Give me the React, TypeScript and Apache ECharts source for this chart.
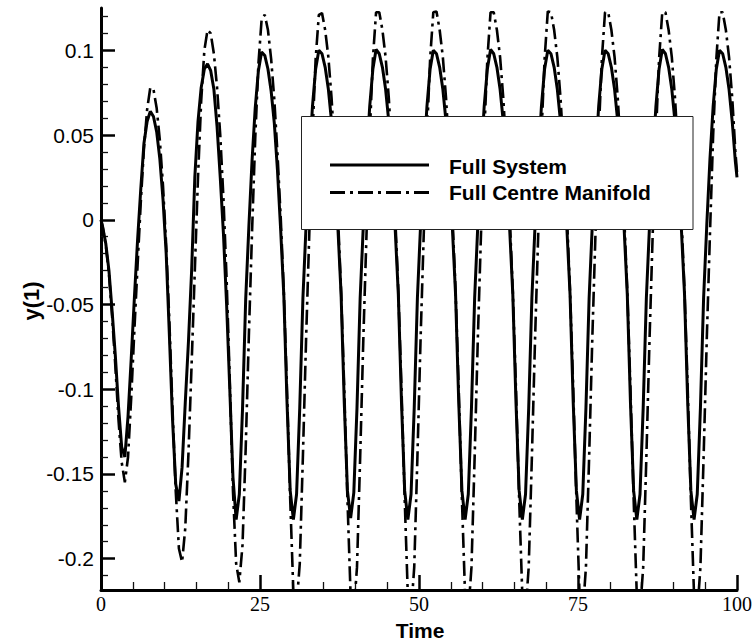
import React, { useEffect, useRef } from 'react';
import * as echarts from 'echarts';

// Time samples (x values)
const time = [
  0,
  0.25, 0.75, 1.25, 1.75, 2.25, 2.75, 3.25, 3.75, 4.25, 4.75,
  5.25, 5.75, 6.25, 6.75, 7.25, 7.75, 8.25, 8.75, 9.25, 9.75,
  10.25, 10.75, 11.25, 11.75, 12.25, 12.75, 13.25, 13.75, 14.25, 14.75,
  15.25, 15.75, 16.25, 16.75, 17.25, 17.75, 18.25, 18.75, 19.25, 19.75,
  20.25, 20.75, 21.25, 21.75, 22.25, 22.75, 23.25, 23.75, 24.25, 24.75,
  25.25, 25.75, 26.25, 26.75, 27.25, 27.75, 28.25, 28.75, 29.25, 29.75,
  30.25, 30.75, 31.25, 31.75, 32.25, 32.75, 33.25, 33.75, 34.25, 34.75,
  35.25, 35.75, 36.25, 36.75, 37.25, 37.75, 38.25, 38.75, 39.25, 39.75,
  40.25, 40.75, 41.25, 41.75, 42.25, 42.75, 43.25, 43.75, 44.25, 44.75,
  45.25, 45.75, 46.25, 46.75, 47.25, 47.75, 48.25, 48.75, 49.25, 49.75,
  50.25, 50.75, 51.25, 51.75, 52.25, 52.75, 53.25, 53.75, 54.25, 54.75,
  55.25, 55.75, 56.25, 56.75, 57.25, 57.75, 58.25, 58.75, 59.25, 59.75,
  60.25, 60.75, 61.25, 61.75, 62.25, 62.75, 63.25, 63.75, 64.25, 64.75,
  65.25, 65.75, 66.25, 66.75, 67.25, 67.75, 68.25, 68.75, 69.25, 69.75,
  70.25, 70.75, 71.25, 71.75, 72.25, 72.75, 73.25, 73.75, 74.25, 74.75,
  75.25, 75.75, 76.25, 76.75, 77.25, 77.75, 78.25, 78.75, 79.25, 79.75,
  80.25, 80.75, 81.25, 81.75, 82.25, 82.75, 83.25, 83.75, 84.25, 84.75,
  85.25, 85.75, 86.25, 86.75, 87.25, 87.75, 88.25, 88.75, 89.25, 89.75,
  90.25, 90.75, 91.25, 91.75, 92.25, 92.75, 93.25, 93.75, 94.25, 94.75,
  95.25, 95.75, 96.25, 96.75, 97.25, 97.75, 98.25, 98.75, 99.25, 99.75,
  100,
];

// y(1) — Full System (solid)
const fullSystem = [
  0,
  -0.004, -0.014, -0.030, -0.054, -0.080, -0.110, -0.134, -0.140, -0.116, -0.082,
  -0.046, -0.012, 0.018, 0.045, 0.058, 0.064, 0.061, 0.052, 0.036, 0.012,
  -0.020, -0.068, -0.118, -0.156, -0.166, -0.146, -0.108, -0.072, -0.030, 0.025,
  0.058, 0.078, 0.089, 0.092, 0.088, 0.077, 0.055, 0.025, -0.008, -0.050,
  -0.100, -0.152,
  // from t = 21.25
  -0.177, -0.162, -0.112, -0.047, -0.004, 0.035, 0.066, 0.088, 0.099, 0.097, 0.089, 0.076, 0.057, 0.029, -0.006, -0.045, -0.108, -0.160,
  // from t = 30.25
  -0.177, -0.162, -0.111, -0.046, -0.003, 0.036, 0.067, 0.089, 0.100, 0.098, 0.090, 0.077, 0.058, 0.030, -0.005, -0.044, -0.108, -0.160,
  // from t = 39.25
  -0.176, -0.161, -0.111, -0.046, -0.003, 0.036, 0.067, 0.089, 0.1005, 0.098, 0.090, 0.077, 0.058, 0.030, -0.005, -0.044, -0.108, -0.160,
  // from t = 48.25
  -0.177, -0.162, -0.111, -0.046, -0.003, 0.036, 0.067, 0.089, 0.100, 0.098, 0.090, 0.077, 0.058, 0.030, -0.005, -0.044, -0.108, -0.160,
  // from t = 57.25
  -0.177, -0.162, -0.111, -0.046, -0.003, 0.036, 0.067, 0.089, 0.1005, 0.098, 0.090, 0.077, 0.058, 0.030, -0.005, -0.044, -0.108, -0.160,
  // from t = 66.25
  -0.177, -0.162, -0.111, -0.046, -0.003, 0.036, 0.067, 0.089, 0.100, 0.098, 0.090, 0.077, 0.058, 0.030, -0.005, -0.044, -0.108, -0.160,
  // from t = 75.25
  -0.177, -0.162, -0.111, -0.046, -0.003, 0.036, 0.067, 0.089, 0.100, 0.098, 0.090, 0.077, 0.058, 0.030, -0.005, -0.044, -0.108, -0.160,
  // from t = 84.25
  -0.177, -0.162, -0.111, -0.046, -0.003, 0.036, 0.067, 0.089, 0.1005, 0.098, 0.090, 0.077, 0.058, 0.030, -0.005, -0.044, -0.108, -0.160,
  // from t = 93.25
  -0.177, -0.162, -0.111, -0.046, -0.003, 0.036, 0.067, 0.089, 0.100, 0.098, 0.090, 0.077, 0.058, 0.034,
  0.025,
];

// y(1) — Full Centre Manifold (dash-dot)
const fullCentreManifold = [
  0,
  -0.004, -0.015, -0.032, -0.057, -0.086, -0.118, -0.143, -0.155, -0.140, -0.105,
  -0.065, -0.027, 0.010, 0.042, 0.065, 0.078, 0.077, 0.066, 0.047, 0.020,
  -0.015, -0.060, -0.112, -0.160, -0.194, -0.202, -0.182, -0.138, -0.085, -0.030,
  0.025, 0.070, 0.100, 0.112, 0.110, 0.098, 0.078, 0.050, 0.013, -0.035,
  -0.095, -0.160,
  // from t = 21.25
  -0.203, -0.214, -0.192, -0.135, -0.068, -0.007, 0.048, 0.092, 0.118, 0.121, 0.112, 0.095, 0.071, 0.039, 0.002, -0.043, -0.101, -0.165,
  // from t = 30.25
  -0.220, -0.228, -0.203, -0.139, -0.070, -0.008, 0.050, 0.095, 0.121, 0.122, 0.112, 0.096, 0.072, 0.040, 0.003, -0.042, -0.100, -0.165,
  // from t = 39.25
  -0.222, -0.232, -0.205, -0.140, -0.070, -0.008, 0.050, 0.095, 0.1225, 0.1225, 0.112, 0.096, 0.072, 0.040, 0.003, -0.042, -0.100, -0.165,
  // from t = 48.25
  -0.222, -0.232, -0.205, -0.140, -0.070, -0.008, 0.050, 0.095, 0.1225, 0.123, 0.112, 0.096, 0.072, 0.040, 0.003, -0.042, -0.100, -0.165,
  // from t = 57.25
  -0.222, -0.232, -0.205, -0.140, -0.070, -0.008, 0.050, 0.095, 0.1225, 0.1225, 0.112, 0.096, 0.072, 0.040, 0.003, -0.042, -0.100, -0.165,
  // from t = 66.25
  -0.222, -0.232, -0.205, -0.140, -0.070, -0.008, 0.050, 0.095, 0.123, 0.1225, 0.112, 0.096, 0.072, 0.040, 0.003, -0.042, -0.100, -0.165,
  // from t = 75.25
  -0.222, -0.232, -0.205, -0.140, -0.070, -0.008, 0.050, 0.095, 0.1225, 0.1225, 0.112, 0.096, 0.072, 0.040, 0.003, -0.042, -0.100, -0.165,
  // from t = 84.25
  -0.222, -0.232, -0.205, -0.140, -0.070, -0.008, 0.050, 0.095, 0.1225, 0.1225, 0.112, 0.096, 0.072, 0.040, 0.003, -0.042, -0.100, -0.165,
  // from t = 93.25
  -0.222, -0.232, -0.205, -0.140, -0.070, -0.008, 0.050, 0.095, 0.1225, 0.1225, 0.112, 0.096, 0.072, 0.040,
  0.028,
];

const seriesNames = ['Full System', 'Full Centre Manifold'];
const xMin = 0;
const xMax = 100;
const xInterval = 25;
const yMin = -0.2185;
const yMax = 0.125;
const yMajorTicks = [-0.2, -0.15, -0.1, -0.05, 0, 0.05, 0.1];
const yMinorTicks = [
  -0.21, -0.19, -0.18, -0.17, -0.16, -0.14, -0.13, -0.12, -0.11, -0.09, -0.08, -0.07, -0.06,
  -0.04, -0.03, -0.02, -0.01, 0.01, 0.02, 0.03, 0.04, 0.06, 0.07, 0.08, 0.09, 0.11, 0.12,
];
const xTitle = 'Time';
const yTitle = 'y(1)';

const SANS = '"Liberation Sans", Arial, Helvetica, sans-serif';
const SERIF = '"Liberation Serif", "Times New Roman", Times, serif';

export default function App() {
  const ref = useRef<HTMLDivElement>(null);

  useEffect(() => {
    if (!ref.current) return;
    const chart = echarts.init(ref.current, null, { renderer: 'svg' });

    const solidData = time.map((t, i) => [t, fullSystem[i]]);
    const dashData = time.map((t, i) => [t, fullCentreManifold[i]]);
    const dashPattern = [15, 5, 3, 5];

    const option: any = {
      animation: false,
      backgroundColor: '#ffffff',
      grid: { left: 101, right: 18, top: 8, bottom: 54, containLabel: false, outerBoundsMode: 'none' },
      xAxis: {
        type: 'value',
        min: xMin,
        max: xMax,
        interval: xInterval,
        axisLine: { show: true, onZero: false, lineStyle: { color: '#000', width: 3 } },
        axisTick: { show: true, inside: true, length: 15, lineStyle: { color: '#000', width: 2.5 } },
        minorTick: { show: true, splitNumber: 5, length: 8, lineStyle: { color: '#111', width: 1.3 } },
        axisLabel: { color: '#000', fontFamily: SERIF, fontSize: 20, margin: 4 },
        splitLine: { show: false },
        minorSplitLine: { show: false },
      },
      yAxis: [
        {
          type: 'value',
          min: yMin,
          max: yMax,
          axisLine: { show: true, onZero: false, lineStyle: { color: '#000', width: 3 } },
          axisTick: {
            show: true,
            inside: true,
            length: 14,
            customValues: yMajorTicks,
            lineStyle: { color: '#000', width: 2.5 },
          },
          axisLabel: {
            color: '#000',
            fontFamily: SANS,
            fontSize: 21,
            margin: 7,
            customValues: yMajorTicks,
            formatter: (v: number) => String(Number(v.toFixed(3))),
          },
          splitLine: { show: false },
        },
        {
          type: 'value',
          min: yMin,
          max: yMax,
          position: 'left',
          axisLine: { show: false },
          axisTick: {
            show: true,
            inside: true,
            length: 7,
            customValues: yMinorTicks,
            lineStyle: { color: '#111', width: 1.3 },
          },
          axisLabel: { show: false },
          splitLine: { show: false },
        },
      ],
      series: [
        {
          name: seriesNames[0],
          type: 'line',
          data: solidData,
          showSymbol: false,
          symbol: 'none',
          clip: true,
          lineStyle: { color: '#000', width: 3 },
          z: 2,
        },
        {
          name: seriesNames[1],
          type: 'line',
          data: dashData,
          showSymbol: false,
          symbol: 'none',
          clip: true,
          lineStyle: { color: '#000', width: 2.6, type: dashPattern },
          z: 3,
        },
      ],
      graphic: [
        {
          type: 'text',
          x: 420,
          y: 630,
          z: 100,
          style: { text: xTitle, font: `bold 21px ${SANS}`, fill: '#000', align: 'center', verticalAlign: 'middle' },
        },
        {
          type: 'text',
          x: 31,
          y: 301,
          rotation: Math.PI / 2,
          z: 100,
          style: { text: yTitle, font: `bold 22px ${SANS}`, fill: '#000', align: 'center', verticalAlign: 'middle' },
        },
        {
          type: 'group',
          z: 100,
          children: [
            {
              type: 'rect',
              shape: { x: 301.5, y: 116.5, width: 391.5, height: 113 },
              style: { fill: '#fff', stroke: '#222', lineWidth: 1 },
              z: 100,
            },
            {
              type: 'line',
              shape: { x1: 330, y1: 165, x2: 429, y2: 165 },
              style: { stroke: '#000', lineWidth: 3 },
              z: 101,
            },
            {
              type: 'line',
              shape: { x1: 330, y1: 192.5, x2: 429, y2: 192.5 },
              style: { stroke: '#000', lineWidth: 3, lineDash: dashPattern },
              z: 101,
            },
            {
              type: 'text',
              x: 449,
              y: 166,
              z: 101,
              style: { text: seriesNames[0], font: `bold 21px ${SANS}`, fill: '#000', align: 'left', verticalAlign: 'middle' },
            },
            {
              type: 'text',
              x: 449,
              y: 192.5,
              z: 101,
              style: { text: seriesNames[1], font: `bold 21px ${SANS}`, fill: '#000', align: 'left', verticalAlign: 'middle' },
            },
          ],
        },
      ],
    };

    chart.setOption(option);
    return () => chart.dispose();
  }, []);

  return (
    <div
      ref={ref}
      style={{ position: 'fixed', left: 0, top: 0, width: 755, height: 644, background: '#fff' }}
    />
  );
}
